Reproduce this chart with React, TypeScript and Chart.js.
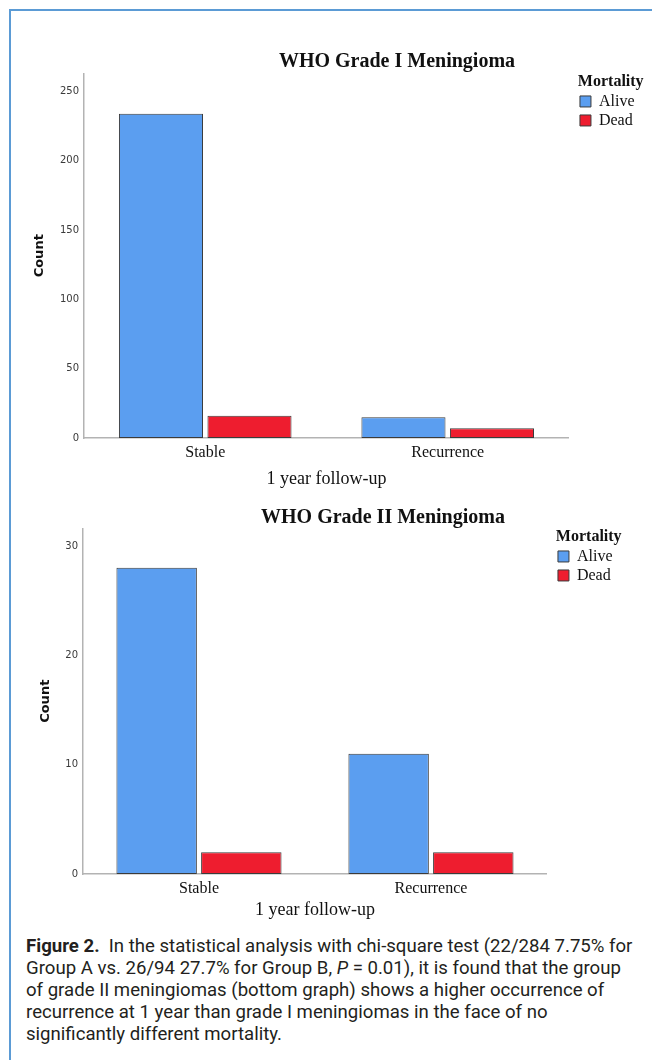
import { useEffect, useRef } from 'react';
import { Chart, registerables } from 'chart.js';

Chart.register(...registerables);

// Categories, series and values for the two panels
const CATEGORIES = ['Stable', 'Recurrence'];
const SERIES = ['Alive', 'Dead'];
const GRADE1_ALIVE = [234, 15];
const GRADE1_DEAD = [16, 7];
const GRADE2_ALIVE = [28, 11];
const GRADE2_DEAD = [2, 2];
const GRADE1_TICKS = [0, 50, 100, 150, 200, 250];
const GRADE2_TICKS = [0, 10, 20, 30];
const GRADE1_MAX = 263;
const GRADE2_MAX = 31.6;

const GRADE1_TITLE = 'WHO Grade I Meningioma';
const GRADE2_TITLE = 'WHO Grade II Meningioma';
const X_TITLE = '1 year follow-up';
const Y_TITLE = 'Count';
const LEGEND_TITLE = 'Mortality';

const SERIES_COLORS = ['#5b9ef0', '#ee1d2f'];
const BAR_EDGE = '#3b3b3b';
const AXIS_COLOR = '#b3b3b3';
const SERIF = "'Liberation Serif', 'Times New Roman', serif";
const SANS = "'DejaVu Sans', 'Open Sans', sans-serif";
const CAPTION_FONT = "Roboto, 'Liberation Sans', sans-serif";

type PanelLayout = {
  top: number;
  height: number;
  padTop: number;
  padRight: number;
  yWidth: number;
  countPad: number;
  xHeight: number;
  xTitlePad: number;
};

function buildConfig(alive: number[], dead: number[], yMax: number, yTicks: number[], lay: PanelLayout): any {
  const values = [alive, dead];
  return {
    type: 'bar',
    data: {
      labels: CATEGORIES,
      datasets: SERIES.map((name, i) => ({
        label: name,
        data: values[i],
        backgroundColor: SERIES_COLORS[i],
        borderColor: BAR_EDGE,
        borderWidth: 1,
        borderSkipped: false,
        yAxisID: 'y',
        categoryPercentage: 0.73,
        barPercentage: 0.95,
      })),
    },
    options: {
      animation: false,
      responsive: false,
      maintainAspectRatio: false,
      events: [],
      layout: { padding: { top: lay.padTop, right: lay.padRight, left: 0, bottom: 0 } },
      plugins: {
        tooltip: { enabled: false },
        title: { display: false },
        legend: {
          position: 'right',
          align: 'start',
          title: {
            display: true,
            text: LEGEND_TITLE,
            color: '#111',
            padding: 0,
            font: { family: SERIF, size: 16, weight: 'bold', lineHeight: 1.06 },
          },
          labels: {
            boxWidth: 11,
            boxHeight: 11,
            padding: 3,
            color: '#111',
            font: { family: SERIF, size: 16 },
          },
        },
      },
      scales: {
        x: {
          grid: { display: false, drawTicks: false },
          border: { display: true, color: AXIS_COLOR, width: 1.5 },
          ticks: { color: '#111', padding: 5, font: { family: SERIF, size: 16 } },
          title: {
            display: true,
            text: X_TITLE,
            color: '#111',
            font: { family: SERIF, size: 18 },
            padding: { top: 0, bottom: lay.xTitlePad },
          },
          afterFit: (s: any) => {
            s.height = lay.xHeight;
          },
        },
        y: {
          min: 0,
          max: yMax,
          grid: { display: false, drawTicks: false },
          border: { display: true, color: AXIS_COLOR, width: 1.5 },
          ticks: { color: '#3a3a3a', padding: 5, font: { family: SANS, size: 10 } },
          afterBuildTicks: (s: any) => {
            s.ticks = yTicks.map((v) => ({ value: v }));
          },
          title: {
            display: true,
            text: Y_TITLE,
            color: '#111',
            font: { family: SANS, size: 13, weight: 'bold' },
            padding: { top: lay.countPad, bottom: 0 },
          },
          afterFit: (s: any) => {
            s.width = lay.yWidth;
          },
        },
        // empty spacer between the plot and the legend
        gap: {
          type: 'linear',
          position: 'right',
          display: true,
          grid: { display: false, drawTicks: false },
          border: { display: false },
          ticks: { display: false },
          afterFit: (s: any) => {
            s.width = 8;
          },
        },
      },
    },
  };
}

function BarPanel(props: { alive: number[]; dead: number[]; yMax: number; yTicks: number[]; lay: PanelLayout }) {
  const ref = useRef<HTMLCanvasElement | null>(null);
  useEffect(() => {
    if (!ref.current) return;
    const chart = new Chart(ref.current, buildConfig(props.alive, props.dead, props.yMax, props.yTicks, props.lay));
    return () => chart.destroy();
  }, []);
  return (
    <canvas
      ref={ref}
      width={652}
      height={props.lay.height}
      style={{ position: 'absolute', left: 0, top: props.lay.top, width: 652, height: props.lay.height }}
    />
  );
}

const TOP_LAYOUT: PanelLayout = {
  top: 0,
  height: 494,
  padTop: 73.5,
  padRight: 7.5,
  yWidth: 84,
  countPad: 32.2,
  xHeight: 56,
  xTitlePad: 4.2,
};

const BOTTOM_LAYOUT: PanelLayout = {
  top: 494,
  height: 430,
  padTop: 34.5,
  padRight: 29.5,
  yWidth: 83,
  countPad: 38.2,
  xHeight: 50,
  xTitlePad: 3.2,
};

const headingStyle = (center: number, top: number): any => ({
  position: 'absolute',
  left: center - 200,
  top,
  width: 400,
  textAlign: 'center',
  fontFamily: SERIF,
  fontWeight: 'bold',
  fontSize: 20,
  lineHeight: '24px',
  color: '#111',
  whiteSpace: 'nowrap',
  zIndex: 2,
});

export default function App() {
  return (
    <div
      style={{
        position: 'absolute',
        left: 0,
        top: 0,
        width: 652,
        height: 1060,
        overflow: 'hidden',
        background: '#fff',
      }}
    >
      <div
        style={{
          position: 'absolute',
          left: 9,
          top: 9,
          width: 700,
          height: 1100,
          borderTop: '2px solid #5b9bd5',
          borderLeft: '2px solid #5b9bd5',
        }}
      />
      <BarPanel alive={GRADE1_ALIVE} dead={GRADE1_DEAD} yMax={GRADE1_MAX} yTicks={GRADE1_TICKS} lay={TOP_LAYOUT} />
      <BarPanel alive={GRADE2_ALIVE} dead={GRADE2_DEAD} yMax={GRADE2_MAX} yTicks={GRADE2_TICKS} lay={BOTTOM_LAYOUT} />
      <div style={headingStyle(397, 48)}>{GRADE1_TITLE}</div>
      <div style={headingStyle(383, 504)}>{GRADE2_TITLE}</div>
      <div
        style={{
          position: 'absolute',
          left: 26,
          top: 935,
          width: 620,
          fontFamily: CAPTION_FONT,
          fontSize: 18.6,
          lineHeight: '22px',
          color: '#231f20',
          whiteSpace: 'pre',
        }}
      >
        <b>Figure 2.</b>
        {'  In the statistical analysis with chi-square test (22/284 7.75% for'}
        <br />
        {'Group A vs. 26/94 27.7% for Group B, '}
        <i>P</i>
        {' = 0.01), it is found that the group'}
        <br />
        {'of grade II meningiomas (bottom graph) shows a higher occurrence of'}
        <br />
        {'recurrence at 1 year than grade I meningiomas in the face of no'}
        <br />
        {'significantly different mortality.'}
      </div>
    </div>
  );
}
